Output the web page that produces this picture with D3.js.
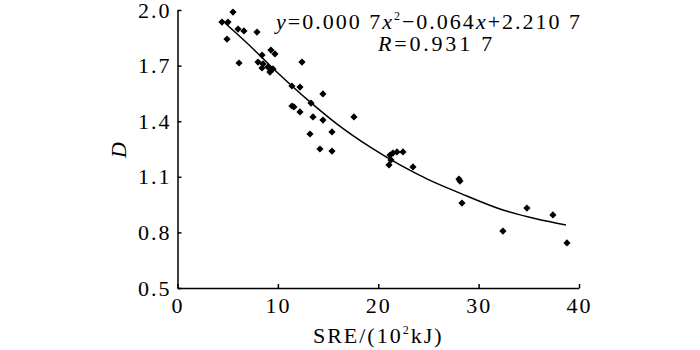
<!DOCTYPE html>
<html>
<head>
<meta charset="utf-8">
<script src="https://cdn.jsdelivr.net/npm/d3@7"></script>
<style>
  body { margin: 0; background: #fff; }
  text { font-family: "Liberation Serif", "DejaVu Serif", serif; fill: #000; }
</style>
</head>
<body>
<div id="chart"></div>
<script>
// scatter points: SRE (10^2 kJ) and D
const sre = [5.53, 4.43, 5.03, 6.03, 6.62, 7.92, 4.93, 6.13, 9.31, 9.71,
             8.42, 8.02, 8.52, 8.42, 9.01, 9.21, 9.51, 12.4, 11.4, 12.2,
             14.49, 11.4, 11.6, 13.3, 12.2, 13.5, 14.49, 17.58, 13.2, 15.39,
             14.19, 15.39, 21.17, 21.46, 21.86, 22.46, 21.27, 21.07, 23.46, 28.04,
             28.14, 28.34, 32.42, 34.81, 37.4, 38.8];
const dVal = [1.989, 1.935, 1.935, 1.897, 1.887, 1.881, 1.843, 1.714, 1.784, 1.763,
              1.757, 1.719, 1.709, 1.687, 1.692, 1.665, 1.682, 1.719, 1.59, 1.584,
              1.547, 1.482, 1.477, 1.498, 1.45, 1.423, 1.406, 1.423, 1.331, 1.342,
              1.25, 1.239, 1.217, 1.228, 1.234, 1.234, 1.191, 1.164, 1.153, 1.088,
              1.077, 0.958, 0.807, 0.931, 0.894, 0.743];

// fitted trend line as drawn
const fitX = [4.73, 6.92, 10.0, 13.2, 16.0, 19.17, 22.16, 25.0, 28.14, 32.42, 35.8, 38.7];
const fitD = [1.93, 1.822, 1.66, 1.504, 1.38, 1.261, 1.164, 1.085, 1.012, 0.921, 0.872, 0.84];

const xTicks = [0, 10, 20, 30, 40];
const yTicks = [0.5, 0.8, 1.1, 1.4, 1.7, 2.0];

const width = 700, height = 350;
const margin = {top: 10, right: 121, bottom: 62, left: 177.5};

const svg = d3.select("#chart").append("svg")
    .attr("width", width)
    .attr("height", height);

const x = d3.scaleLinear().domain([0, 40]).range([margin.left, width - margin.right]);
const y = d3.scaleLinear().domain([0.5, 2.0]).range([height - margin.bottom, margin.top]);

const gx = svg.append("g")
    .attr("transform", `translate(0,${height - margin.bottom})`)
    .call(d3.axisBottom(x).tickValues(xTicks).tickSizeInner(-4).tickSizeOuter(0).tickPadding(9));

const gy = svg.append("g")
    .attr("transform", `translate(${margin.left},0)`)
    .call(d3.axisLeft(y).tickValues(yTicks).tickFormat(d3.format(".1f")).tickSizeInner(-4).tickSizeOuter(0).tickPadding(6));

[gx, gy].forEach(g => {
    g.select(".domain").attr("stroke", "#000").attr("stroke-width", 1.5);
    g.selectAll(".tick line").attr("stroke", "#000").attr("stroke-width", 1.5);
    g.selectAll(".tick text")
        .attr("font-family", "Liberation Serif")
        .attr("font-size", 22)
        .attr("letter-spacing", 2)
        .attr("fill", "#000");
});

// trend line
const line = d3.line()
    .x((d, i) => x(fitX[i]))
    .y(d => y(d))
    .curve(d3.curveMonotoneX);

svg.append("path")
    .datum(fitD)
    .attr("fill", "none")
    .attr("stroke", "#000")
    .attr("stroke-width", 1.5)
    .attr("d", line);

// points as filled diamonds
svg.append("g")
    .selectAll("path")
    .data(sre)
    .join("path")
    .attr("transform", (d, i) => `translate(${x(d)},${y(dVal[i])}) rotate(45)`)
    .attr("d", d3.symbol(d3.symbolSquare, 26))
    .attr("fill", "#000");

// equation
const eq = svg.append("text")
    .attr("x", 276)
    .attr("y", 29)
    .attr("font-size", 22)
    .attr("letter-spacing", 2);
eq.append("tspan").attr("font-style", "italic").text("y");
eq.append("tspan").text("=0.000 7");
eq.append("tspan").attr("font-style", "italic").text("x");
eq.append("tspan").attr("font-size", 12).attr("dy", -9).text("2");
eq.append("tspan").attr("dy", 9).text("\u22120.064");
eq.append("tspan").attr("font-style", "italic").text("x");
eq.append("tspan").text("+2.210 7");

const r = svg.append("text")
    .attr("x", 378)
    .attr("y", 51)
    .attr("font-size", 22)
    .attr("letter-spacing", 2.8);
r.append("tspan").attr("font-style", "italic").text("R");
r.append("tspan").text("=0.931 7");

// axis titles
svg.append("text")
    .attr("transform", "translate(126,150) rotate(-90)")
    .attr("text-anchor", "middle")
    .attr("font-size", 22)
    .attr("font-style", "italic")
    .text("D");

const xl = svg.append("text")
    .attr("x", x(20))
    .attr("y", 343)
    .attr("text-anchor", "middle")
    .attr("font-size", 22)
    .attr("letter-spacing", 2);
xl.append("tspan").text("SRE/(10");
xl.append("tspan").attr("font-size", 12).attr("dy", -9).text("2");
xl.append("tspan").attr("dy", 9).text("kJ)");
</script>
</body>
</html>
